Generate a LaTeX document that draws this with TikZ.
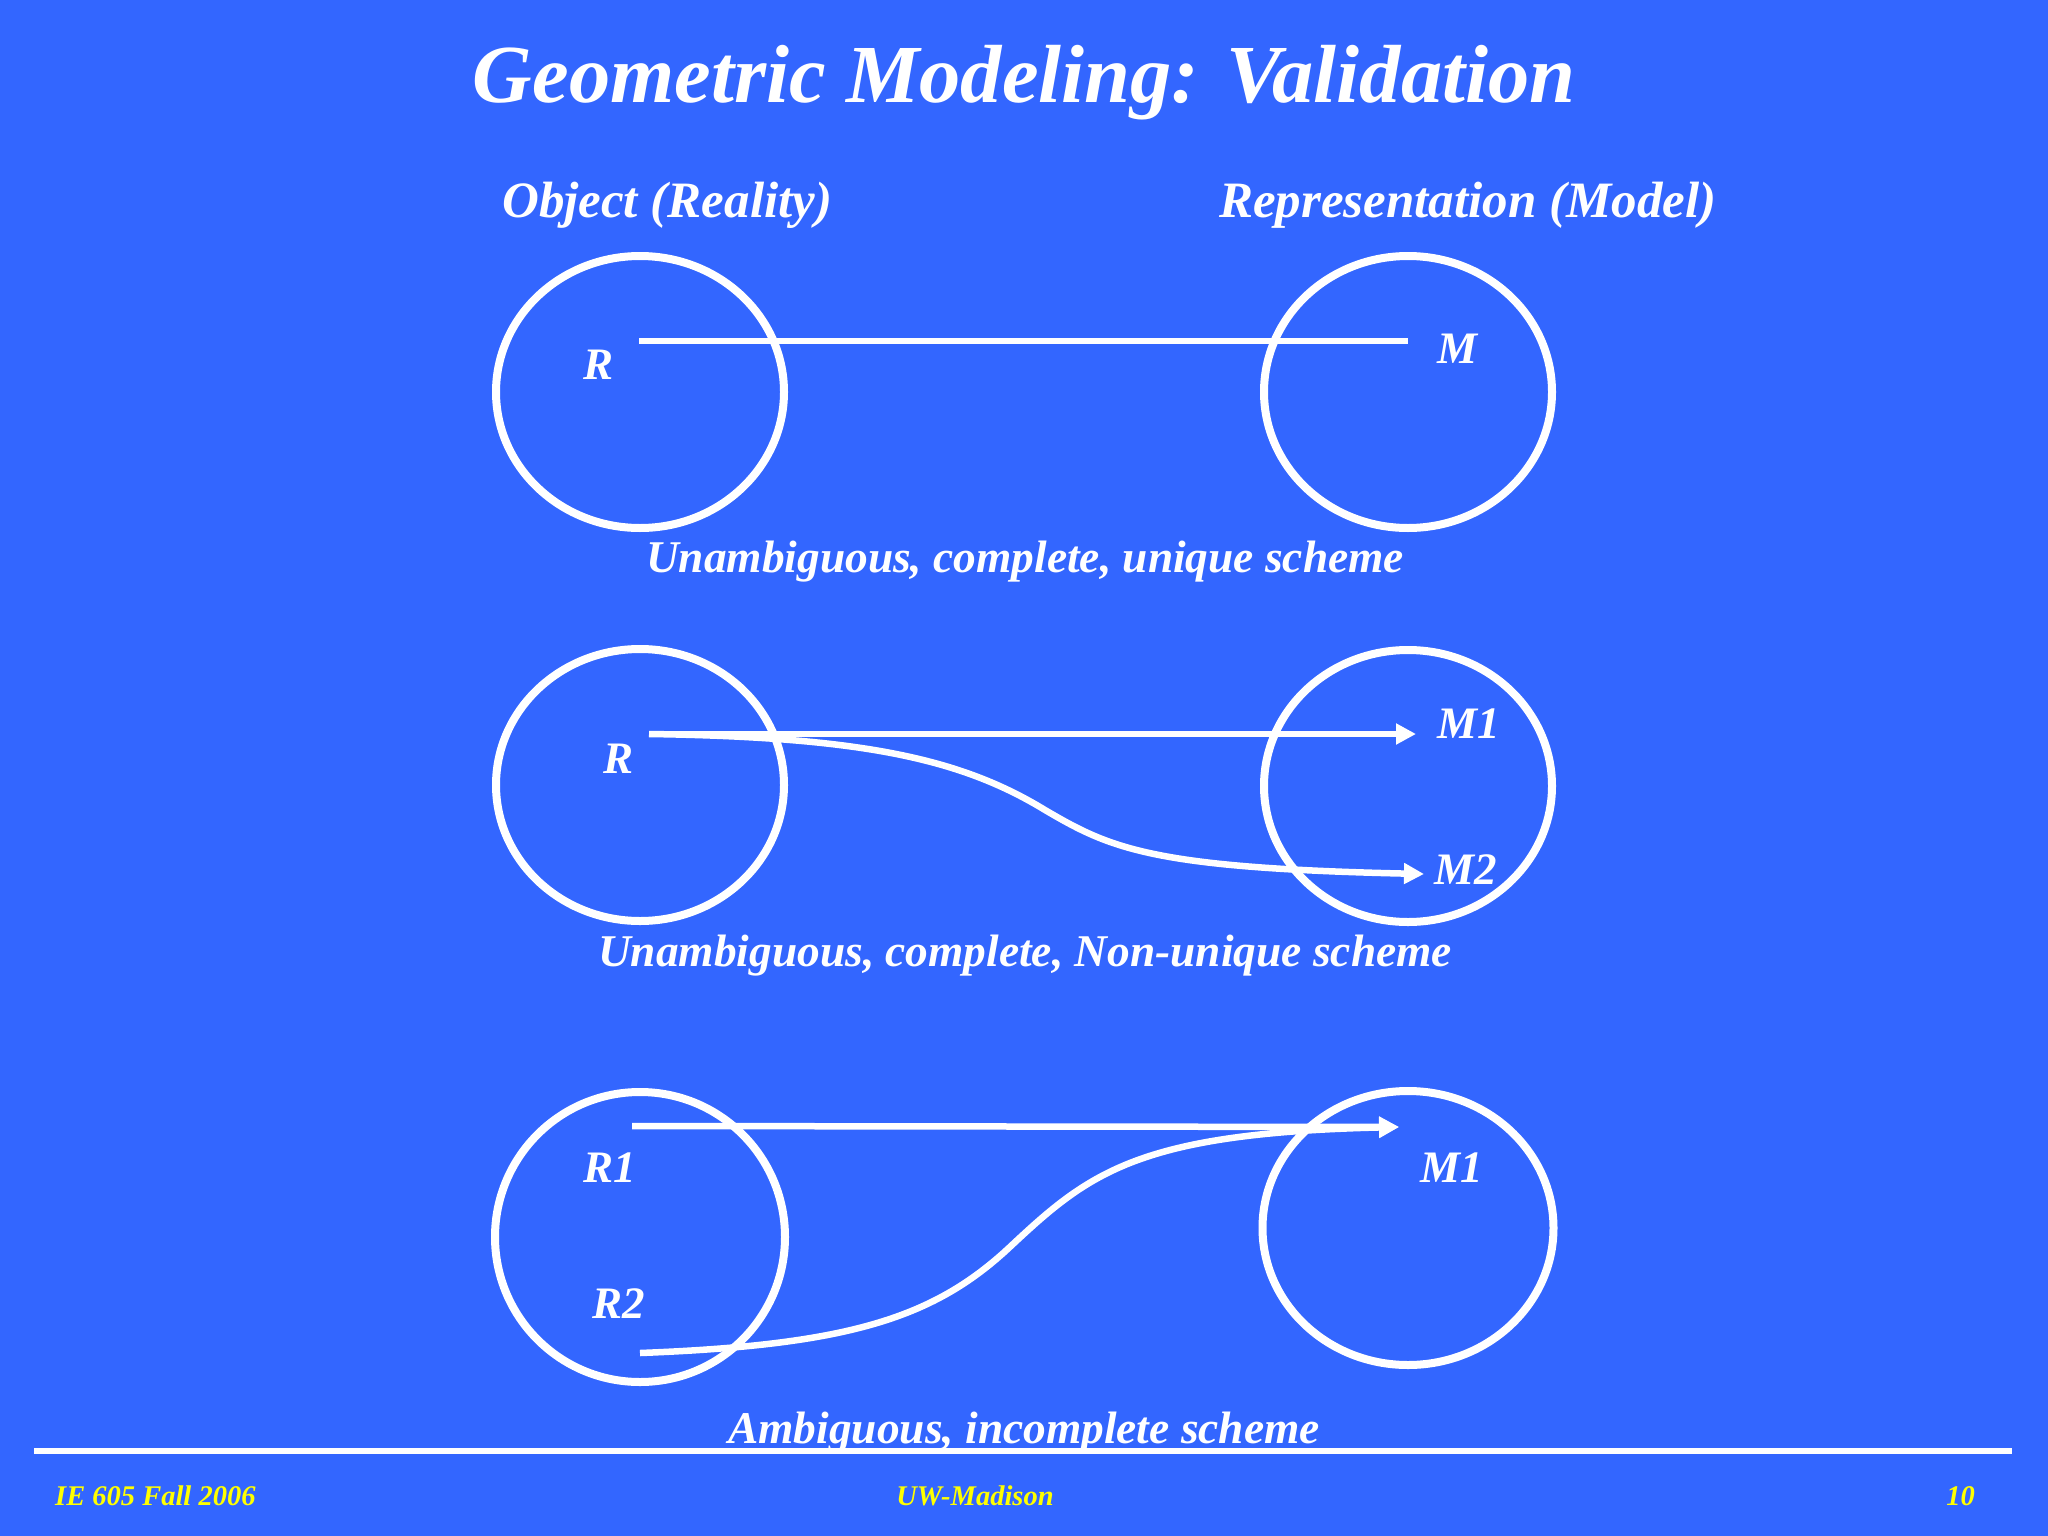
\documentclass[tikz,border=0pt]{standalone}
\usepackage{fontspec}
\setmainfont{Liberation Serif}
\usetikzlibrary{arrows.meta,shapes.geometric}
\definecolor{slidebg}{RGB}{51,102,255}
\definecolor{footyellow}{RGB}{255,255,0}
\tikzset{
  ring/.style={ellipse, draw=white, line width=8pt, inner sep=0pt},
  conn/.style={draw=white, line width=6.5pt},
  arr/.style={conn, -{Triangle[length=20pt,width=20pt]}},
  lbl/.style={text=white, font=\bfseries\itshape\fontsize{45}{48}\selectfont, inner sep=0pt},
  captxt/.style={text=white, font=\bfseries\itshape\fontsize{45.4}{50}\selectfont, inner sep=0pt, anchor=base},
  head/.style={text=white, font=\bfseries\itshape\fontsize{51}{56}\selectfont, inner sep=0pt, anchor=base west},
  foot/.style={text=footyellow, font=\bfseries\itshape\fontsize{28.5}{32}\selectfont, inner sep=0pt}
}
\begin{document}
\begin{tikzpicture}[x=1pt,y=-1pt]
\fill[slidebg] (0,0) rectangle (2048,1536);
\useasboundingbox (0,0) rectangle (2048,1536);
% title
\node[text=white, font=\bfseries\itshape\fontsize{82.5}{90}\selectfont, inner sep=0pt, anchor=base] (title) at (1024,103) {Geometric Modeling: Validation};
\node[head] (hobj) at (502,217) {Object (Reality)};
\node[head] (hrep) at (1219,217) {Representation (Model)};
% row 1
\node[ring, minimum width=288pt, minimum height=272pt] (l1) at (640,392) {};
\node[ring, minimum width=288pt, minimum height=272pt] (r1) at (1408,392) {};
\coordinate (a1s) at (639,341);
\coordinate (a1e) at (1408,341);
\draw[conn] (a1s) -- (a1e);
\node[lbl, anchor=base west] (R) at (583,379) {R};
\node[lbl, anchor=base west] (M) at (1437,363) {M};
\node[captxt] (cap1) at (1025,572) {Unambiguous, complete, unique scheme};
% row 2
\node[ring, minimum width=288pt, minimum height=272pt] (l2) at (640,785) {};
\node[ring, minimum width=288pt, minimum height=272pt] (r2) at (1408,786) {};
\coordinate (a2s) at (649,734);
\coordinate (a2e) at (1416,734);
\coordinate (b2e) at (1424,874);
\draw[arr] (a2s) -- (a2e);
\draw[arr] (a2s) .. controls (860,737) and (960,758) .. (1045,810) .. controls (1110,848) and (1150,868) .. (b2e);
\node[lbl, anchor=base west] (R2x) at (603,773) {R};
\node[lbl, anchor=base west] (M1a) at (1437,738) {M1};
\node[lbl, anchor=base west] (M2a) at (1434,884) {M2};
\node[captxt] (cap2) at (1025,966) {Unambiguous, complete, Non-unique scheme};
% row 3
\node[ring, minimum width=290pt, minimum height=290pt] (l3) at (640,1237) {};
\node[ring, minimum width=291pt, minimum height=274pt] (r3) at (1408,1228) {};
\coordinate (a3s) at (632,1126);
\coordinate (b3s) at (640,1353);
\coordinate (a3e) at (1399,1127);
\draw[arr] (a3s) -- (a3e);
\draw[arr] (b3s) .. controls (850,1345) and (935,1318) .. (1012,1245) .. controls (1090,1172) and (1140,1133) .. (a3e);
\node[lbl, anchor=base west] (R1b) at (583,1182) {R1};
\node[lbl, anchor=base west] (R2b) at (592,1318) {R2};
\node[lbl, anchor=base west] (M1b) at (1420,1182) {M1};
\node[captxt] (cap3) at (1024,1443) {Ambiguous, incomplete scheme};
% footer
\coordinate (fl) at (34,1451);
\coordinate (fr) at (2012,1451);
\draw[white, line width=6pt] (fl) -- (fr);
\node[foot, anchor=base west] (f1) at (55,1505) {IE 605 Fall 2006};
\node[foot, anchor=base] (f2) at (975,1505) {UW-Madison};
\node[foot, anchor=base east] (f3) at (1975,1505) {10};
\end{tikzpicture}
\end{document}
